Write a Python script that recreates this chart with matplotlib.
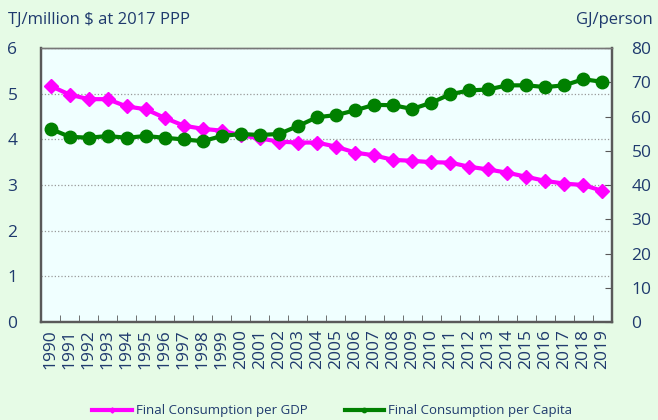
import matplotlib.pyplot as plt
from matplotlib.ticker import FixedLocator

plt.rcParams['font.family'] = ['Open Sans', 'DejaVu Sans']

years = [str(y) for y in range(1990, 2020)]
per_gdp = [5.17, 4.98, 4.88, 4.88, 4.72, 4.66, 4.47, 4.30, 4.23, 4.19,
           4.09, 4.02, 3.95, 3.93, 3.93, 3.84, 3.71, 3.65, 3.55, 3.53,
           3.50, 3.49, 3.40, 3.34, 3.27, 3.18, 3.09, 3.03, 3.00, 2.87]
per_capita = [56.4, 54.1, 53.8, 54.3, 53.8, 54.3, 53.8, 53.3, 52.8, 54.3,
              54.9, 54.6, 54.9, 57.2, 59.8, 60.4, 61.8, 63.4, 63.3, 62.2,
              64.0, 66.5, 67.6, 67.9, 69.1, 69.1, 68.6, 69.1, 70.9, 70.1]

txt = '#1f3a6e'
fig = plt.figure(figsize=(6.58, 4.2), dpi=100, facecolor='#e6fbe6')
ax = fig.add_axes([0.0623, 0.2333, 0.8677, 0.6524], facecolor='#f0ffff')
ax2 = ax.twinx()

x = range(len(years))
l1, = ax.plot(x, per_gdp, color='#ff00ff', lw=3, marker='D', ms=7.5,
              label='Final Consumption per GDP', zorder=3)
l2, = ax2.plot(x, per_capita, color='#008000', lw=3, marker='o', ms=9,
               label='Final Consumption per Capita', zorder=3)

ax.set_xlim(-0.5, len(years) - 0.5)
ax.set_ylim(0, 6)
ax2.set_ylim(0, 80)

ax.set_xticks(list(x))
ax.set_xticklabels(years, rotation=90, color=txt, fontsize=12.5)
ax.xaxis.set_minor_locator(FixedLocator([i + 0.5 for i in range(len(years) - 1)]))
ax.tick_params(axis='x', which='major', length=0, pad=5)
ax.tick_params(axis='x', which='minor', direction='in', length=5, color='#595959')

ax.set_yticks(range(7))
ax.tick_params(axis='y', length=0, labelsize=12.5, labelcolor=txt, pad=17)
ax.grid(axis='y', color='#999999', ls=':', lw=0.9)
ax.set_axisbelow(True)

ax2.set_yticks(range(0, 81, 10))
ax2.tick_params(axis='y', direction='in', length=5, color='#595959',
                labelsize=12.5, labelcolor=txt, pad=14)

for a in (ax, ax2):
    for s in a.spines.values():
        s.set_color('#595959')
        s.set_linewidth(1.6)
    a.spines['top'].set_color('#777777')
    a.spines['top'].set_linewidth(1.0)

fig.text(0.012, 0.952, 'TJ/million $ at 2017 PPP', color=txt, fontsize=12, va='center')
fig.text(0.992, 0.952, 'GJ/person', color=txt, fontsize=12, va='center', ha='right')

fig.legend(handles=[l1, l2], loc='center', bbox_to_anchor=(0.505, 0.022), ncol=2,
           frameon=False, fontsize=9.5, labelcolor=txt, markerscale=0.35,
           handlelength=3.0, columnspacing=2.8, handletextpad=0.3)

fig.savefig('out.png', dpi=100, facecolor=fig.get_facecolor())
